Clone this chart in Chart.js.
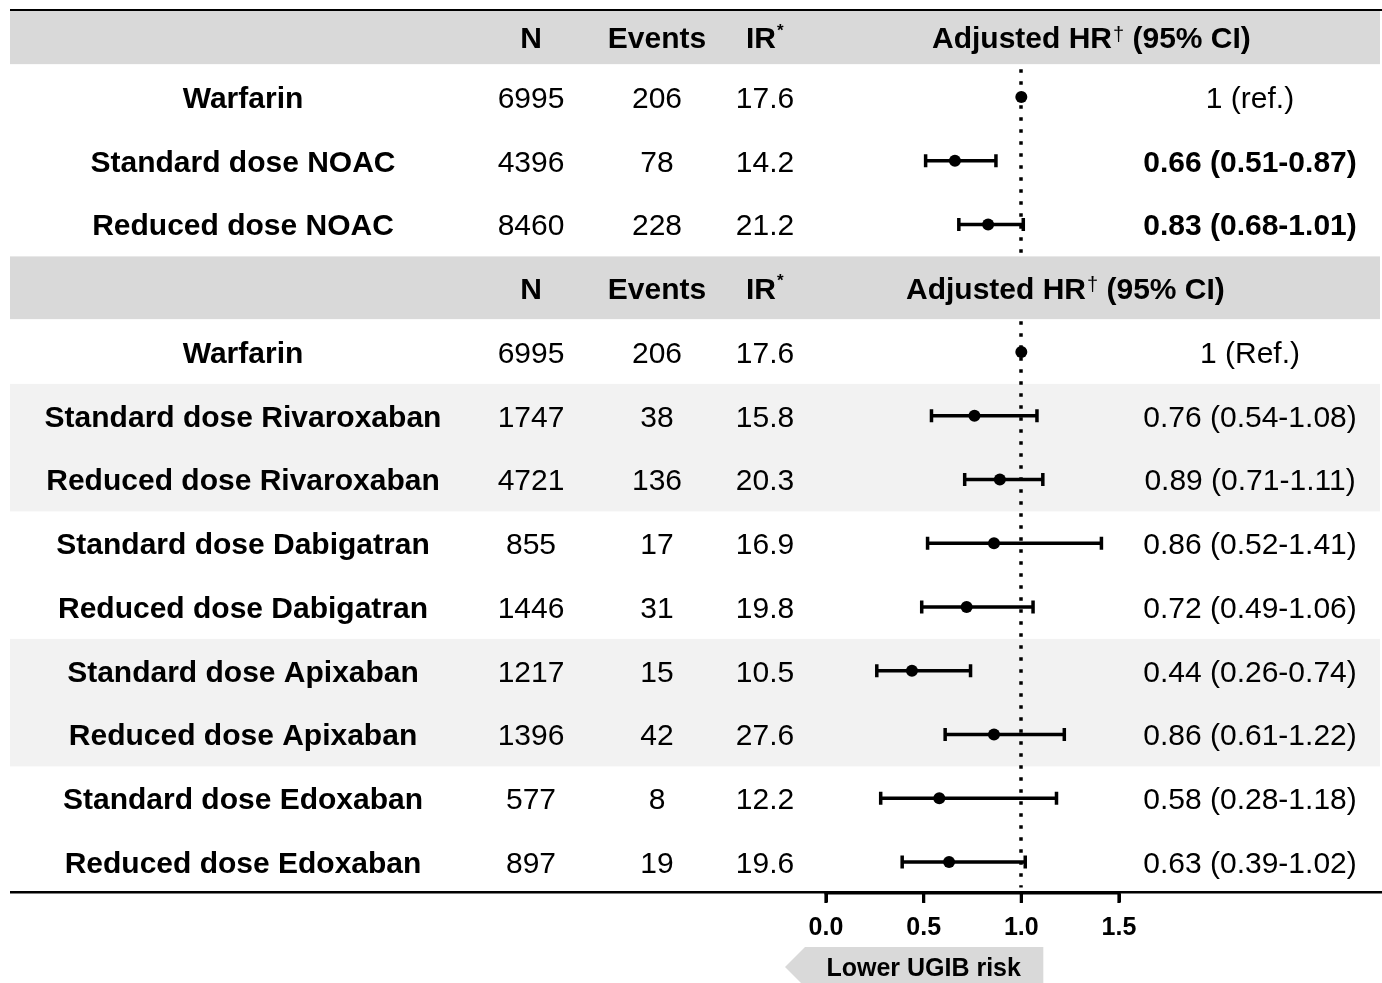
<!DOCTYPE html>
<html><head><meta charset="utf-8">
<script src="https://cdn.jsdelivr.net/npm/chart.js@4.4.1/dist/chart.umd.min.js"></script>
<style>html,body{margin:0;padding:0;background:#fff;overflow:hidden}#wrap{width:1382px;height:983px;position:relative}</style>
</head><body><div id="wrap"><canvas id="c" width="1382" height="983"></canvas></div>
<script>
const drugs = ['Warfarin','Standard dose NOAC','Reduced dose NOAC','Warfarin','Standard dose Rivaroxaban','Reduced dose Rivaroxaban','Standard dose Dabigatran','Reduced dose Dabigatran','Standard dose Apixaban','Reduced dose Apixaban','Standard dose Edoxaban','Reduced dose Edoxaban'];
const rowPos = [1,2,3,5,6,7,8,9,10,11,12,13];
const nPatients = [6995,4396,8460,6995,1747,4721,855,1446,1217,1396,577,897];
const events = [206,78,228,206,38,136,17,31,15,42,8,19];
const incidence = ['17.6','14.2','21.2','17.6','15.8','20.3','16.9','19.8','10.5','27.6','12.2','19.6'];
const hr = [1,0.66,0.83,1,0.76,0.89,0.86,0.72,0.44,0.86,0.58,0.63];
const ciLow = [null,0.51,0.68,null,0.54,0.71,0.52,0.49,0.26,0.61,0.28,0.39];
const ciHigh = [null,0.87,1.01,null,1.08,1.11,1.41,1.06,0.74,1.22,1.18,1.02];
const hrLabels = ['1 (ref.)','0.66 (0.51-0.87)','0.83 (0.68-1.01)','1 (Ref.)','0.76 (0.54-1.08)','0.89 (0.71-1.11)','0.86 (0.52-1.41)','0.72 (0.49-1.06)','0.44 (0.26-0.74)','0.86 (0.61-1.22)','0.58 (0.28-1.18)','0.63 (0.39-1.02)'];
const boldHr = [false,true,true,false,false,false,false,false,false,false,false,false];
const headerRows = [0,4];
const headerHrStart = [932,906];
const shadedPairs = [[6,7],[10,11]];
const xTicks = [0,0.5,1,1.5];
const refValue = 1;

const FF = '"Liberation Sans", Arial, sans-serif';
const TY = 2.5; // baseline nudge for text

const tablePlugin = {
  id: 'table',
  beforeDatasetsDraw(chart) {
    const {ctx, chartArea, scales: {x, y}} = chart;
    const L = 10, R = 1380;
    const py = v => y.getPixelForValue(v);
    ctx.save();
    // light shaded bands
    ctx.fillStyle = '#f2f2f2';
    shadedPairs.forEach(([a, b]) => ctx.fillRect(L, py(a - 0.5), R - L, py(b + 0.5) - py(a - 0.5)));
    // dotted reference line
    const xr = Math.round(x.getPixelForValue(refValue));
    ctx.strokeStyle = '#000'; ctx.lineWidth = 3.5; ctx.setLineDash([3.5, 8.5]);
    ctx.beginPath(); ctx.moveTo(xr, py(0.5) + 4); ctx.lineTo(xr, py(13.4)); ctx.stroke();
    ctx.setLineDash([]);
    // header bands
    ctx.fillStyle = '#d9d9d9';
    const hdrY = [];
    headerRows.forEach(r => {
      const t = r === 0 ? chartArea.top + 1 : py(r - 0.5);
      const b = py(r + 0.5) - 1;
      ctx.fillRect(L, t, R - L, b - t);
      hdrY.push((t + b) / 2 + TY);
    });
    // header text
    ctx.fillStyle = '#000';
    ctx.textBaseline = 'middle';
    hdrY.forEach((yy, k) => {
      ctx.font = 'bold 30px ' + FF;
      ctx.textAlign = 'center';
      ctx.fillText('N', 531, yy);
      ctx.fillText('Events', 657, yy);
      ctx.textAlign = 'left';
      ctx.fillText('IR', 746, yy);
      let w = ctx.measureText('IR').width;
      ctx.font = 'bold 17px ' + FF;
      ctx.fillText('*', 746 + w + 1, yy - 9);
      let xs = headerHrStart[k];
      ctx.font = 'bold 30px ' + FF;
      ctx.fillText('Adjusted HR', xs, yy);
      xs += ctx.measureText('Adjusted HR').width + 1;
      ctx.font = '20px ' + FF;
      ctx.fillText('\u2020', xs, yy - 5);
      xs += ctx.measureText('\u2020').width;
      ctx.font = 'bold 30px ' + FF;
      ctx.fillText(' (95% CI)', xs, yy);
    });
    // row text
    drugs.forEach((d, i) => {
      const yy = py(rowPos[i]) + TY;
      ctx.textAlign = 'center';
      ctx.font = 'bold 30px ' + FF;
      ctx.fillText(d, 243, yy);
      ctx.font = '30px ' + FF;
      ctx.fillText(String(nPatients[i]), 531, yy);
      ctx.fillText(String(events[i]), 657, yy);
      ctx.fillText(incidence[i], 765, yy);
      ctx.font = (boldHr[i] ? 'bold ' : '') + '30px ' + FF;
      ctx.fillText(hrLabels[i], 1250, yy);
    });
    // error bars
    ctx.strokeStyle = '#000'; ctx.lineWidth = 3.5; ctx.lineCap = 'butt';
    rowPos.forEach((r, i) => {
      if (ciLow[i] == null) return;
      const yy = py(r), a = x.getPixelForValue(ciLow[i]), b = x.getPixelForValue(ciHigh[i]);
      ctx.beginPath();
      ctx.moveTo(a, yy); ctx.lineTo(b, yy);
      ctx.moveTo(a, yy - 6.5); ctx.lineTo(a, yy + 6.5);
      ctx.moveTo(b, yy - 6.5); ctx.lineTo(b, yy + 6.5);
      ctx.stroke();
    });
    // top rule and bottom rule
    ctx.fillStyle = '#000';
    ctx.fillRect(10, chartArea.top - 1, 1372, 2);
    ctx.fillRect(10, chartArea.bottom - 1, 1372, 2.5);
    ctx.restore();
  },
  afterDraw(chart) {
    const {ctx, chartArea, scales: {x}} = chart;
    const x0 = x.getPixelForValue(0), x1 = x.getPixelForValue(1);
    ctx.save();
    // heavier axis segment and tick marks at the scale's ticks
    ctx.fillStyle = '#000';
    const xa = x.getPixelForValue(x.min), xb = x.getPixelForValue(x.max);
    ctx.fillRect(xa - 1.5, chartArea.bottom - 1, xb - xa + 3, 3.5);
    x.ticks.forEach(t => {
      const px = x.getPixelForValue(t.value);
      ctx.fillRect(px - 1.6, chartArea.bottom, 3.2, 11);
    });
    // arrow box
    ctx.fillStyle = '#d9d9d9';
    ctx.beginPath();
    ctx.moveTo(x0 - 41, 967);
    ctx.lineTo(x0 - 21, 947);
    ctx.lineTo(x1 + 22, 947);
    ctx.lineTo(x1 + 22, 990);
    ctx.lineTo(x0 - 18, 990);
    ctx.closePath();
    ctx.fill();
    ctx.fillStyle = '#000';
    ctx.font = 'bold 25px ' + FF;
    ctx.textAlign = 'center';
    ctx.textBaseline = 'middle';
    ctx.fillText('Lower UGIB risk', (x0 + x1) / 2, 969);
    ctx.restore();
  }
};

new Chart(document.getElementById('c'), {
  type: 'scatter',
  data: {
    datasets: [{
      data: rowPos.map((r, i) => ({x: hr[i], y: r})),
      backgroundColor: '#000',
      borderColor: '#000',
      borderWidth: 0,
      pointRadius: 6,
      pointHoverRadius: 6
    }]
  },
  options: {
    responsive: false,
    animation: false,
    layout: {padding: {left: 826, right: 263, top: 10, bottom: 0}},
    plugins: {legend: {display: false}, tooltip: {enabled: false}},
    scales: {
      x: {
        type: 'linear', position: 'bottom', min: 0, max: 1.5,
        afterFit: s => { s.height = 91; },
        afterBuildTicks: s => { s.ticks = xTicks.map(v => ({value: v})); },
        border: {display: true, color: '#000', width: 3},
        grid: {drawOnChartArea: false, drawTicks: true, tickLength: 10, tickWidth: 3, tickColor: '#000'},
        ticks: {color: '#000', font: {family: FF, size: 25, weight: 'bold'}, padding: 11, maxRotation: 0, autoSkip: false,
          callback: v => Number(v).toFixed(1)}
      },
      y: {type: 'linear', display: false, reverse: true, min: -0.365, max: 13.47}
    }
  },
  plugins: [tablePlugin]
});
</script></body></html>
